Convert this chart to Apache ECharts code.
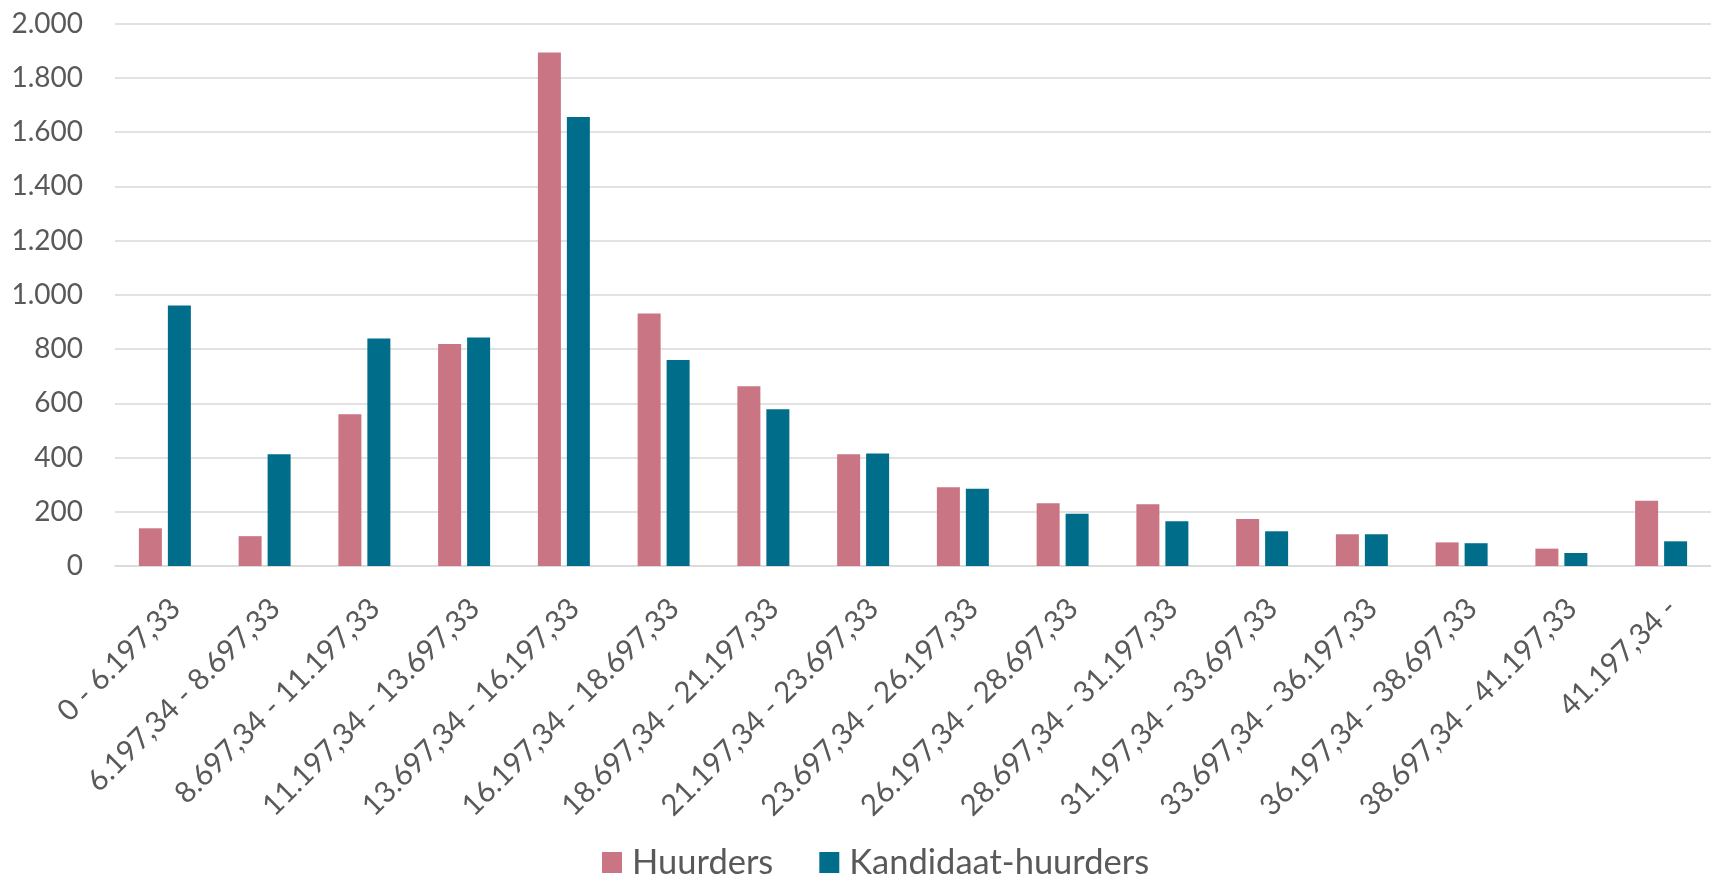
<!DOCTYPE html>
<html lang="nl">
<head>
    <title>Huurders en kandidaat-huurders per inkomensklasse</title>
    <meta charset="utf-8">
    <style>
        html, body {margin: 0; padding: 0; background: #fff;}
        #container {width: 1711px; height: 879px;}
    </style>
</head>
<body>
<div id="container"></div>

<script src="https://cdn.jsdelivr.net/npm/echarts/dist/echarts.min.js"></script>
<script>
// inkomensklassen
var categories = [
    '0 - 6.197,33', '6.197,34 - 8.697,33', '8.697,34 - 11.197,33', '11.197,34 - 13.697,33',
    '13.697,34 - 16.197,33', '16.197,34 - 18.697,33', '18.697,34 - 21.197,33', '21.197,34 - 23.697,33',
    '23.697,34 - 26.197,33', '26.197,34 - 28.697,33', '28.697,34 - 31.197,33', '31.197,34 - 33.697,33',
    '33.697,34 - 36.197,33', '36.197,34 - 38.697,33', '38.697,34 - 41.197,33', '41.197,34 -'
];
var huurders = [139, 110, 559, 818, 1893, 931, 663, 412, 290, 231, 228, 173, 117, 87, 64, 241];
var kandidaatHuurders = [960, 412, 839, 842, 1655, 759, 578, 415, 285, 193, 165, 128, 117, 84, 48, 91];

var textColor = '#595959';
var font = 'Lato';

function dotThousands(v) {
    if (v < 1000) return String(v);
    return Math.floor(v / 1000) + '.' + String(v % 1000).padStart(3, '0');
}

var myChart = echarts.init(document.getElementById('container'));
var options = {
    animation: false,
    grid: {left: 115, right: -4, top: 23.5, bottom: 313},
    legend: {
        left: 602,
        top: 845,
        padding: 0,
        itemWidth: 20,
        itemHeight: 21,
        itemGap: 46,
        icon: 'rect',
        textStyle: {fontFamily: font, fontSize: 34.5, color: textColor, padding: [0, 0, 0, 5]},
        data: ['Huurders', 'Kandidaat-huurders']
    },
    xAxis: {
        type: 'category',
        data: categories,
        axisTick: {show: false},
        axisLine: {lineStyle: {color: '#D9D9D9', width: 1.5}},
        axisLabel: {
            rotate: 45,
            interval: 0,
            margin: 27,
            verticalAlign: 'top',
            fontFamily: font,
            fontSize: 29.5,
            color: textColor
        }
    },
    yAxis: {
        type: 'value',
        min: 0,
        max: 2000,
        interval: 200,
        axisLine: {show: false},
        axisTick: {show: false},
        splitLine: {lineStyle: {color: '#D9D9D9', width: 1.5}},
        axisLabel: {
            margin: 32,
            fontFamily: font,
            fontSize: 28,
            color: textColor,
            formatter: dotThousands
        }
    },
    series: [
        {
            name: 'Huurders',
            type: 'bar',
            data: huurders,
            barWidth: 23,
            barGap: '26%',
            itemStyle: {color: '#C97583'}
        },
        {
            name: 'Kandidaat-huurders',
            type: 'bar',
            data: kandidaatHuurders,
            barWidth: 23,
            itemStyle: {color: '#006E8A'}
        }
    ]
};
myChart.setOption(options);
</script>
</body>
</html>
